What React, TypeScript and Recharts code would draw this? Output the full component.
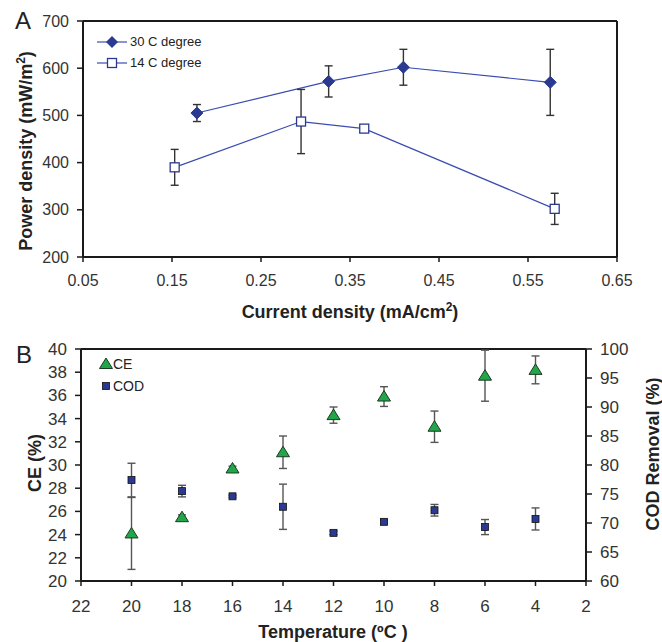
import React from "react";
import {
  ComposedChart,
  Line,
  Scatter,
  XAxis,
  YAxis,
  ErrorBar,
  ReferenceLine,
} from "recharts";

// Panel A: power density vs current density
const xs30 = [0.178, 0.326, 0.41, 0.575];
const pd30 = [505, 572, 602, 570];
const err30 = [18, 33, 38, 70];

const xs14 = [0.153, 0.295, 0.366, 0.58];
const pd14 = [390, 487, 472, 302];
const err14 = [38, 68, 0, 33];

const ticksA_x = [0.05, 0.15, 0.25, 0.35, 0.45, 0.55, 0.65];
const ticksA_y = [200, 300, 400, 500, 600, 700];

// Panel B: CE and COD removal vs temperature
const temps = [20, 18, 16, 14, 12, 10, 8, 6, 4];
const ce = [24.1, 25.5, 29.7, 31.1, 34.3, 35.9, 33.3, 37.7, 38.2];
const ceErr = [3.1, 0.2, 0.2, 1.4, 0.7, 0.85, 1.35, 2.2, 1.2];
const cod = [77.4, 75.5, 74.6, 72.8, 68.3, 70.2, 72.2, 69.3, 70.7];
const codErr = [2.9, 1.0, 0.2, 3.9, 0.3, 0.3, 1.0, 1.3, 1.9];

const ticksB_x = [22, 20, 18, 16, 14, 12, 10, 8, 6, 4, 2];
const ticksB_left = [20, 22, 24, 26, 28, 30, 32, 34, 36, 38, 40];
const ticksB_right = [60, 65, 70, 75, 80, 85, 90, 95, 100];

const data30 = xs30.map((x, i) => ({ x, pd: pd30[i], err: err30[i] }));
const data14 = xs14.map((x, i) => ({ x, pd: pd14[i], err: err14[i] }));
const dataCE = temps.map((t, i) => ({ t, ce: ce[i], err: ceErr[i] }));
const dataCOD = temps.map((t, i) => ({ t, cod: cod[i], err: codErr[i] }));

const NAVY = "#2B3990";
const LINE = "#3a4cb0";
const GREEN = "#22a64a";
const AXIS = "#1a1a1a";
const FONT = "'Liberation Sans', Arial, sans-serif";

const Diamond = (p: any) => {
  const { cx, cy, index } = p;
  if (cx == null || cy == null) return <g key={index} />;
  const r = 6;
  return (
    <path
      key={index}
      d={`M${cx},${cy - r}L${cx + r},${cy}L${cx},${cy + r}L${cx - r},${cy}Z`}
      fill={NAVY}
      stroke={NAVY}
    />
  );
};

const OpenSquare = (p: any) => {
  const { cx, cy, index } = p;
  if (cx == null || cy == null) return <g key={index} />;
  return (
    <rect
      key={index}
      x={cx - 4.5}
      y={cy - 4.5}
      width={9}
      height={9}
      fill="#fff"
      stroke={NAVY}
      strokeWidth={1.3}
    />
  );
};

const Triangle = (p: any) => {
  const { cx, cy } = p;
  return (
    <path
      d={`M${cx},${cy - 6}L${cx + 6.5},${cy + 4.5}L${cx - 6.5},${cy + 4.5}Z`}
      fill={GREEN}
      stroke="#1d3a22"
      strokeWidth={1}
    />
  );
};

const SmallSquare = (p: any) => {
  const { cx, cy } = p;
  return (
    <rect
      x={cx - 3.5}
      y={cy - 3.5}
      width={7}
      height={7}
      fill={NAVY}
      stroke="#111"
      strokeWidth={0.8}
    />
  );
};

const TitleAx = () => (
  <text x={350} y={318} textAnchor="middle" fontSize={18} fontWeight="bold" fill="#222" fontFamily={FONT}>
    Current density (mA/cm<tspan dy={-7} fontSize={12}>2</tspan>
    <tspan dy={7}>)</tspan>
  </text>
);

const TitleAy = () => (
  <text
    x={32}
    y={151}
    transform="rotate(-90, 32, 151)"
    textAnchor="middle"
    fontSize={18}
    fontWeight="bold"
    fill="#222"
    fontFamily={FONT}
  >
    Power density (mW/m<tspan dy={-7} fontSize={12}>2</tspan>
    <tspan dy={7}>)</tspan>
  </text>
);

const TitleBx = () => (
  <text x={333} y={308} textAnchor="middle" fontSize={18} fontWeight="bold" fill="#222" fontFamily={FONT}>
    Temperature (ºC )
  </text>
);

const TitleBy = () => (
  <text
    x={41}
    y={133}
    transform="rotate(-90, 41, 133)"
    textAnchor="middle"
    fontSize={18}
    fontWeight="bold"
    fill="#222"
    fontFamily={FONT}
  >
    CE (%)
  </text>
);

const TitleBy2 = () => (
  <text
    x={659}
    y={124}
    transform="rotate(-90, 659, 124)"
    textAnchor="middle"
    fontSize={18}
    fontWeight="bold"
    fill="#222"
    fontFamily={FONT}
  >
    COD Removal (%)
  </text>
);

const legendText: React.CSSProperties = {
  position: "absolute",
  fontSize: 13,
  color: "#222",
  lineHeight: "16px",
  whiteSpace: "nowrap",
};

export default function App() {
  return (
    <div
      style={{
        position: "absolute",
        left: 0,
        top: 0,
        width: 662,
        height: 642,
        background: "#fff",
        fontFamily: FONT,
      }}
    >
      <div style={{ position: "absolute", left: 15, top: 7, fontSize: 24, color: "#222" }}>A</div>
      <div style={{ position: "absolute", left: 16, top: 341, fontSize: 24, color: "#222" }}>B</div>

      <div style={{ position: "absolute", left: 0, top: 0 }}>
        <ComposedChart width={662} height={330} margin={{ top: 21, right: 45, bottom: 0, left: 0 }}>
          <XAxis
            dataKey="x"
            type="number"
            domain={[0.05, 0.65]}
            ticks={ticksA_x}
            interval={0}
            height={73}
            tickFormatter={(v) => v.toFixed(2)}
            tick={{ fill: "#333", fontSize: 16, fontFamily: FONT }}
            tickSize={5}
            tickMargin={13}
            axisLine={{ stroke: AXIS, strokeWidth: 2 }}
            tickLine={{ stroke: AXIS, strokeWidth: 1.5 }}
            label={<TitleAx />}
          />
          <YAxis
            type="number"
            domain={[200, 700]}
            ticks={ticksA_y}
            interval={0}
            width={83}
            tick={{ fill: "#333", fontSize: 16, fontFamily: FONT }}
            tickSize={6}
            tickMargin={8}
            axisLine={{ stroke: AXIS, strokeWidth: 2 }}
            tickLine={{ stroke: AXIS, strokeWidth: 1.5 }}
            label={<TitleAy />}
          />
          <ReferenceLine y={700} stroke={AXIS} strokeWidth={2} />
          <ReferenceLine x={0.65} stroke={AXIS} strokeWidth={2} />
          <Line
            data={data30}
            dataKey="pd"
            type="linear"
            stroke={LINE}
            strokeWidth={1.2}
            dot={Diamond}
            activeDot={false}
            isAnimationActive={false}
          >
            <ErrorBar dataKey="err" width={4} stroke="#333" strokeWidth={1.4} direction="y" />
          </Line>
          <Line
            data={data14}
            dataKey="pd"
            type="linear"
            stroke={LINE}
            strokeWidth={1.2}
            dot={OpenSquare}
            activeDot={false}
            isAnimationActive={false}
          >
            <ErrorBar dataKey="err" width={4} stroke="#333" strokeWidth={1.4} direction="y" />
          </Line>
        </ComposedChart>
      </div>

      <div style={{ position: "absolute", left: 0, top: 330 }}>
        <ComposedChart width={662} height={312} margin={{ top: 19, right: 0, bottom: 0, left: 0 }}>
          <XAxis
            dataKey="t"
            type="number"
            domain={[2, 22]}
            reversed
            ticks={ticksB_x}
            interval={0}
            height={61}
            tick={{ fill: "#333", fontSize: 17, fontFamily: FONT }}
            tickSize={5}
            tickMargin={14}
            axisLine={{ stroke: AXIS, strokeWidth: 2 }}
            tickLine={{ stroke: AXIS, strokeWidth: 1.5 }}
            label={<TitleBx />}
          />
          <YAxis
            yAxisId="left"
            dataKey="ce"
            type="number"
            domain={[20, 40]}
            ticks={ticksB_left}
            interval={0}
            width={81}
            tick={{ fill: "#333", fontSize: 17, fontFamily: FONT }}
            tickSize={6}
            tickMargin={8}
            axisLine={{ stroke: AXIS, strokeWidth: 2 }}
            tickLine={{ stroke: AXIS, strokeWidth: 1.5 }}
            label={<TitleBy />}
          />
          <YAxis
            yAxisId="right"
            orientation="right"
            dataKey="cod"
            type="number"
            domain={[60, 100]}
            ticks={ticksB_right}
            interval={0}
            width={76}
            tick={{ fill: "#333", fontSize: 17, fontFamily: FONT }}
            tickSize={6}
            tickMargin={8}
            axisLine={{ stroke: AXIS, strokeWidth: 2 }}
            tickLine={{ stroke: AXIS, strokeWidth: 1.5 }}
            label={<TitleBy2 />}
          />
          <ReferenceLine yAxisId="left" y={40} stroke={AXIS} strokeWidth={2} />
          <Scatter
            yAxisId="left"
            data={dataCE}
            dataKey="ce"
            shape={Triangle}
            isAnimationActive={false}
          >
            <ErrorBar dataKey="err" width={4} stroke="#555" strokeWidth={1.4} direction="y" />
          </Scatter>
          <Scatter
            yAxisId="right"
            data={dataCOD}
            dataKey="cod"
            shape={SmallSquare}
            isAnimationActive={false}
          >
            <ErrorBar dataKey="err" width={4} stroke="#555" strokeWidth={1.4} direction="y" />
          </Scatter>
        </ComposedChart>
      </div>

      {/* legend A */}
      <svg style={{ position: "absolute", left: 95, top: 32 }} width={36} height={40}>
        <line x1={2} y1={10} x2={32} y2={10} stroke={LINE} strokeWidth={1.2} />
        <path d="M17,4L23,10L17,16L11,10Z" fill={NAVY} />
        <line x1={2} y1={31} x2={32} y2={31} stroke={LINE} strokeWidth={1.2} />
        <rect x={12.5} y={26.5} width={9} height={9} fill="#fff" stroke={NAVY} strokeWidth={1.3} />
      </svg>
      <div style={{ ...legendText, left: 130, top: 34 }}>30 C degree</div>
      <div style={{ ...legendText, left: 130, top: 55 }}>14 C degree</div>

      {/* legend B */}
      <svg style={{ position: "absolute", left: 96, top: 354 }} width={20} height={40}>
        <path d="M10,4L16.5,14.5L3.5,14.5Z" fill={GREEN} stroke="#1d3a22" strokeWidth={1} />
        <rect x={6.5} y={28.5} width={7} height={7} fill={NAVY} stroke="#111" strokeWidth={0.8} />
      </svg>
      <div style={{ ...legendText, fontSize: 14, left: 113, top: 356 }}>CE</div>
      <div style={{ ...legendText, fontSize: 14, left: 113, top: 378 }}>COD</div>
    </div>
  );
}
